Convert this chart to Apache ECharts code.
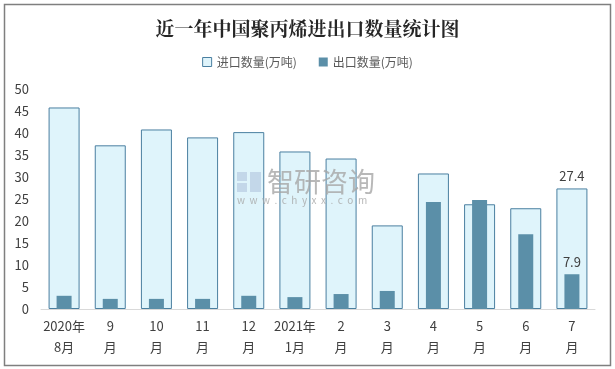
<!DOCTYPE html>
<html><head><meta charset="utf-8">
<script src="https://cdn.jsdelivr.net/npm/echarts@6/dist/echarts.min.js"></script>
<style>html,body{margin:0;padding:0;background:#fff}#c{width:615px;height:369px}</style>
</head><body><div id="c"></div>
<script>
const categories = ['2020年\n8月','9\n月','10\n月','11\n月','12\n月','2021年\n1月','2\n月','3\n月','4\n月','5\n月','6\n月','7\n月'];
const importValues = [45.8, 37.2, 40.8, 39.0, 40.2, 35.8, 34.2, 19.0, 30.8, 23.8, 22.9, 27.4];
const exportValues = [3.0, 2.3, 2.3, 2.3, 3.0, 2.7, 3.4, 4.1, 24.3, 24.8, 17.0, 7.9];
const yTicks = [0, 5, 10, 15, 20, 25, 30, 35, 40, 45, 50];
const seriesNames = ['进口数量(万吨)', '出口数量(万吨)'];
const lastIdx = categories.length - 1;

const chart = echarts.init(document.getElementById('c'), null, {renderer: 'canvas'});
const font = '"Microsoft YaHei","Noto Sans CJK SC",sans-serif';
chart.setOption({
  animation: false,
  backgroundColor: '#fff',
  title: {
    text: '近一年中国聚丙烯进出口数量统计图',
    left: 'center', top: 14,
    textStyle: {fontSize: 19, fontWeight: 'bold', color: '#262626', fontFamily: '"Noto Serif CJK SC","Noto Sans CJK SC",serif'}
  },
  legend: {
    top: 51, left: 'center', itemWidth: 9, itemHeight: 9, itemGap: 22,
    textStyle: {fontSize: 12, color: '#595959', fontFamily: font},
    data: [
      {name: seriesNames[0], icon: 'rect', itemStyle: {color: '#dff4fb', borderColor: '#4a7fa0', borderWidth: 1}},
      {name: seriesNames[1], icon: 'rect'}
    ]
  },
  grid: {left: 41, right: 20, top: 89, bottom: 60},
  xAxis: [{
    type: 'category', data: categories,
    axisLine: {lineStyle: {color: '#d9d9d9', width: 1}},
    axisTick: {show: false},
    axisLabel: {color: '#404040', fontSize: 13, lineHeight: 21, margin: 7, interval: 0, fontFamily: font}
  }, {
    type: 'category', data: categories, show: false
  }],
  yAxis: {
    type: 'value', min: yTicks[0], max: yTicks[yTicks.length-1], interval: 5,
    axisLine: {show: false}, axisTick: {show: false}, splitLine: {show: false},
    axisLabel: {color: '#404040', fontSize: 13, margin: 12, fontFamily: font}
  },
  series: [
    {
      name: seriesNames[0], type: 'bar', barWidth: 31, xAxisIndex: 0,
      data: importValues.map((v,i)=> i===lastIdx ? {value: v, label: {show: true}} : v),
      itemStyle: {color: '#dff4fb', borderColor: '#4a7fa0', borderWidth: 1},
      label: {show: false, position: 'top', distance: 6, color: '#404040', fontSize: 13, fontFamily: font}
    },
    {
      name: seriesNames[1], type: 'bar', barWidth: 15, xAxisIndex: 1,
      data: exportValues.map((v,i)=> i===lastIdx ? {value: v, label: {show: true}} : v),
      itemStyle: {color: '#5b8fa8'},
      label: {show: false, position: 'top', distance: 6, color: '#404040', fontSize: 13, fontFamily: font}
    }
  ],
  graphic: [
    {type: 'rect', z: 100, shape: {x: 4.5, y: 4.5, width: 606, height: 361}, style: {fill: 'none', stroke: '#7f7f7f', lineWidth: 1.5}, silent: true},
    {type: 'group', left: 237, top: 168, z: 100, silent: true, children: [
      {type: 'rect', z: 100, shape: {x: 0, y: 2, width: 10, height: 9}, style: {fill: '#b9cde3', opacity: 0.75}},
      {type: 'rect', z: 100, shape: {x: 0, y: 13, width: 10, height: 9}, style: {fill: '#b9cde3', opacity: 0.75}},
      {type: 'rect', z: 100, shape: {x: 13, y: 2, width: 11, height: 20}, style: {fill: '#b9cde3', opacity: 0.75}},
      {type: 'text', z: 100, x: 30, y: -2, style: {text: '智研咨询', fontSize: 27, fill: '#a6a6a6', opacity: 0.8, fontFamily: font}},
      {type: 'text', z: 100, x: 0, y: 25, style: {text: 'w  w  w  .  c  h  y  x  x  .  c  o  m', fontSize: 10, fill: '#a6a6a6', opacity: 0.8, fontFamily: font}}
    ]}
  ]
});
</script></body></html>
